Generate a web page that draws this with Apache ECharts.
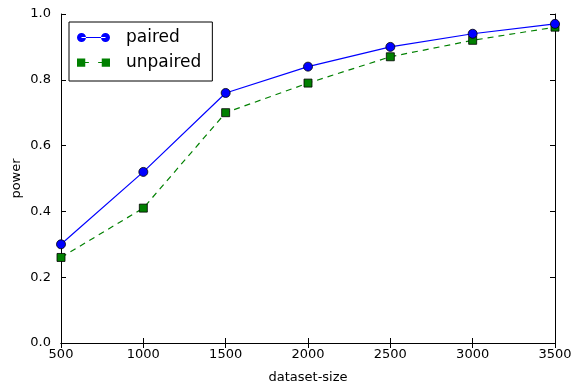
<!DOCTYPE html>
<html>
<head>
<meta charset="utf-8">
<script src="https://cdn.jsdelivr.net/npm/echarts@6/dist/echarts.min.js"></script>
<style>
  html, body { margin: 0; padding: 0; background: #fff; }
  #main { width: 574px; height: 384px; }
</style>
</head>
<body>
<div id="main"></div>
<script>
// dataset sizes on the x axis
const sizes = [500, 1000, 1500, 2000, 2500, 3000, 3500];
const paired = [0.30, 0.52, 0.76, 0.84, 0.90, 0.94, 0.97];
const unpaired = [0.26, 0.41, 0.70, 0.79, 0.87, 0.92, 0.96];

const font = 'DejaVu Sans';

function pairs(ys) {
  return sizes.map((x, i) => [x, ys[i]]);
}

// legend icons: marker - line - marker
const pairedIcon = 'path://M0,4.5a4.5,4.5 0 1,0 9,0a4.5,4.5 0 1,0 -9,0z' +
  'M4.5,4L28.5,4L28.5,5L4.5,5z' +
  'M24,4.5a4.5,4.5 0 1,0 9,0a4.5,4.5 0 1,0 -9,0z';
const unpairedIcon = 'path://M0.5,0.5L8.5,0.5L8.5,8.5L0.5,8.5z' +
  'M8.5,4L12,4L12,5L8.5,5z' +
  'M21,4L24.5,4L24.5,5L21,5z' +
  'M24.5,0.5L32.5,0.5L32.5,8.5L24.5,8.5z';

const chart = echarts.init(document.getElementById('main'));

const option = {
  animation: false,
  backgroundColor: '#fff',
  textStyle: { fontFamily: font },
  grid: { left: 61, right: 19, top: 14, bottom: 41, outerBoundsMode: 'none', containLabel: false },
  legend: {
    orient: 'vertical',
    left: 69,
    top: 22,
    padding: [7, 11, 10, 8],
    itemGap: 8,
    itemWidth: 33,
    itemHeight: 10,
    borderColor: '#000',
    borderWidth: 1,
    backgroundColor: '#fff',
    itemStyle: { borderWidth: 0 },
    textStyle: { fontFamily: font, fontSize: 17, color: '#000', padding: [0, 0, 0, 11] },
    data: [
      { name: 'paired', icon: pairedIcon },
      { name: 'unpaired', icon: unpairedIcon }
    ]
  },
  xAxis: [
    {
      type: 'value',
      min: 500,
      max: 3500,
      interval: 500,
      name: 'dataset-size',
      nameLocation: 'middle',
      nameGap: 28,
      nameMoveOverlap: false,
      nameTextStyle: { fontFamily: font, fontSize: 13, color: '#000' },
      axisLine: { lineStyle: { color: '#000', width: 1 } },
      axisTick: { inside: true, length: 5, lineStyle: { color: '#000' } },
      axisLabel: { fontFamily: font, fontSize: 13, color: '#000', margin: 5, formatter: v => String(v) },
      splitLine: { show: false }
    },
    {
      type: 'value',
      position: 'top',
      min: 500,
      max: 3500,
      interval: 500,
      axisLine: { lineStyle: { color: '#000', width: 1 } },
      axisTick: { inside: true, length: 5, lineStyle: { color: '#000' } },
      axisLabel: { show: false },
      splitLine: { show: false }
    }
  ],
  yAxis: [
    {
      type: 'value',
      min: 0,
      max: 1,
      interval: 0.2,
      name: 'power',
      nameLocation: 'middle',
      nameGap: 38,
      nameMoveOverlap: false,
      nameTextStyle: { fontFamily: font, fontSize: 13, color: '#000' },
      axisLine: { show: true, lineStyle: { color: '#000', width: 1 } },
      axisTick: { show: true, inside: true, length: 5, lineStyle: { color: '#000' } },
      axisLabel: {
        fontFamily: font, fontSize: 13, color: '#000', margin: 10,
        formatter: v => v.toFixed(1)
      },
      splitLine: { show: false }
    },
    {
      type: 'value',
      position: 'right',
      min: 0,
      max: 1,
      interval: 0.2,
      axisLine: { show: true, lineStyle: { color: '#000', width: 1 } },
      axisTick: { show: true, inside: true, length: 5, lineStyle: { color: '#000' } },
      axisLabel: { show: false },
      splitLine: { show: false }
    }
  ],
  series: [
    {
      name: 'paired',
      type: 'line',
      data: pairs(paired),
      symbol: 'circle',
      symbolSize: 9,
      clip: false,
      z: 3,
      lineStyle: { color: '#0000ff', width: 1.2 },
      itemStyle: { color: '#0000ff', borderColor: '#000', borderWidth: 0.8 }
    },
    {
      name: 'unpaired',
      type: 'line',
      data: pairs(unpaired),
      symbol: 'rect',
      symbolSize: 8,
      clip: false,
      z: 2,
      lineStyle: { color: '#008000', width: 1.2, type: [6, 5] },
      itemStyle: { color: '#008000', borderColor: '#000', borderWidth: 0.8 }
    }
  ]
};

chart.setOption(option);
</script>
</body>
</html>
